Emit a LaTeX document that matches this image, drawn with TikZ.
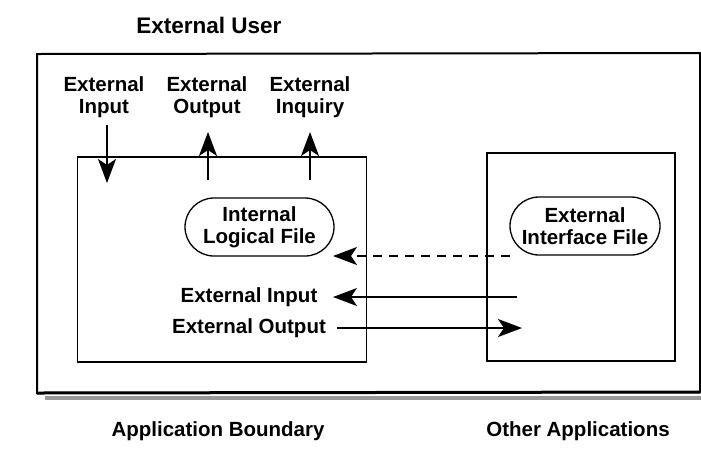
\documentclass[tikz,border=0pt]{standalone}
\usepackage{fontspec}
\setmainfont{Liberation Sans}
\usetikzlibrary{arrows.meta}
\begin{document}
\begin{tikzpicture}[x=1pt,y=-1pt,
  lbl/.style={font=\bfseries\fontsize{20.5}{22}\selectfont, inner sep=0pt, align=center},
  filebox/.style={lbl, draw, line width=1.3pt, rounded corners=29pt,
    minimum width=149pt, minimum height=58pt},
  boundary/.style={draw, line width=1.4pt},
  flow/.style={line width=1.5pt, -{Stealth[length=24pt,width=18pt,inset=6pt]}},
]
\useasboundingbox[fill=white] (0,0) rectangle (701,459);

% outer frame (external user) with its shadow along the bottom
\draw[line width=4pt, black!40] (45,398) -- (701,398);
\draw[line width=2pt] (700,53) -- (37,54) -- (37,393) -- (700,392) -- cycle;
\draw[line width=3pt] (37,393) -- (700,392);

% application boundary and other application
\node[boundary, minimum width=289pt, minimum height=205pt] (app) at (222,259.5) {};
\node[boundary, minimum width=188pt, minimum height=208pt] (oth) at (581,257) {};

% titles
\node[lbl, anchor=base, font=\bfseries\fontsize{22.5}{24}\selectfont] (user) at (209,33) {External User};
\node[lbl, anchor=base] (appname) at (218,436) {Application Boundary};
\node[lbl, anchor=base] (othname) at (578,436) {Other Applications};

% transaction labels at the top
\node[lbl] (ei) at (104,97) {External\\Input};
\node[lbl] (eo) at (207,97) {External\\Output};
\node[lbl] (eq) at (310,97) {External\\Inquiry};

\coordinate (eiA) at (107,125);
\coordinate (eiB) at (107,183);
\coordinate (eoA) at (208,180);
\coordinate (eoB) at (208,132);
\coordinate (eqA) at (310,180);
\coordinate (eqB) at (310,132);
\draw[flow] (eiA) -- (eiB);
\draw[flow] (eoA) -- (eoB);
\draw[flow] (eqA) -- (eqB);

% logical files
\node[filebox] (ilf) at (259.5,227) {Internal\\Logical File};
\node[filebox, minimum width=150pt] (eif) at (585,226) {External\\Interface File};

% flows between the applications
\coordinate (dA) at (510,256);
\coordinate (dB) at (333,256);
\draw[flow, dash pattern=on 9pt off 7pt] (dA) -- (dB);

\node[lbl, anchor=base] (ein) at (249,302) {External Input};
\node[lbl, anchor=base] (eout) at (249,333) {External Output};
\coordinate (inA) at (517,297);
\coordinate (inB) at (333,297);
\coordinate (outA) at (337,328);
\coordinate (outB) at (522,328);
\draw[flow] (inA) -- (inB);
\draw[flow] (outA) -- (outB);
\end{tikzpicture}
\end{document}
